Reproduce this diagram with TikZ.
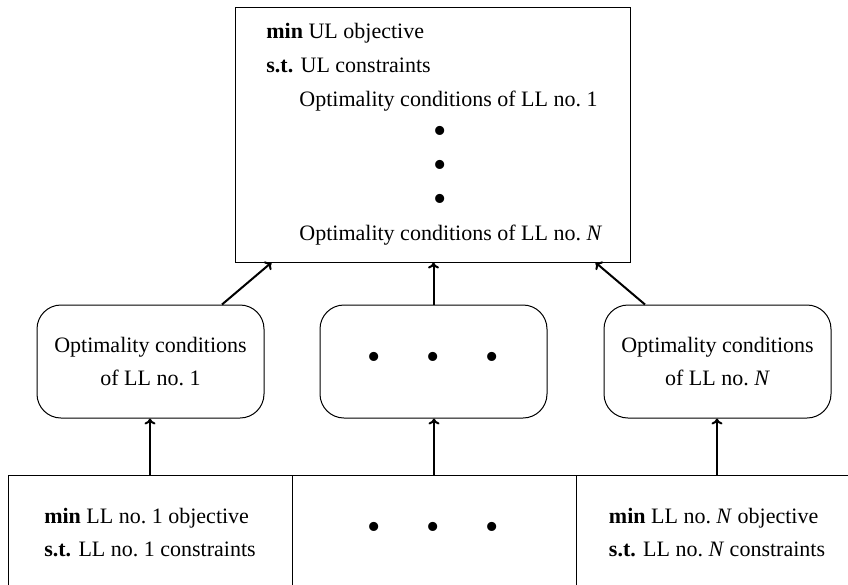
\documentclass[tikz,border=0pt]{standalone}
\usepackage{fontspec}
\setmainfont{Liberation Serif}
\usetikzlibrary{arrows.meta,calc}
\begin{document}
\begin{tikzpicture}[x=0.5pt,y=-0.5pt,
  font=\fontsize{11}{16.5}\selectfont,
  frame/.style={draw,line width=0.5pt,inner sep=0pt},
  ocbox/.style={frame,rounded corners=12pt,minimum width=113.5pt,
    minimum height=56.5pt,align=center},
  llbox/.style={frame,minimum height=62.5pt},
  txt/.style={inner sep=0pt,anchor=base west},
  blt/.style={inner sep=0pt,font=\fontsize{19}{19}\selectfont},
  arr/.style={line width=1pt,-{To[length=3pt,width=5.5pt]}}]
\useasboundingbox (0,0) rectangle (848,585);
\clip (0,0) rectangle (848,585);

% upper-level problem
\node[frame,minimum width=197.5pt,minimum height=127.5pt] (top) at (432.5,134.5) {};
\node[txt] (t1) at (266,38) {\textbf{min} UL objective};
\node[txt] (t2) at (266,72.5) {\textbf{s.t.} UL constraints};
\node[txt] (t3) at (299,106) {Optimality conditions of LL no.~1};
\node[blt] (d1) at (440.5,135) {\textbullet};
\node[blt] (d2) at (440.5,168.5) {\textbullet};
\node[blt] (d3) at (440.5,202.5) {\textbullet};
\node[txt] (t4) at (299,240) {Optimality conditions of LL no.~\textit{N}};

% optimality conditions of the lower levels
\node[ocbox] (oc1) at (150.5,361.5) {Optimality conditions\\of LL no.~1};
\node[ocbox] (ocm) at (433.5,361.5) {};
\node[blt] (m1) at (374.5,361) {\textbullet};
\node[blt] (m2) at (433.5,361) {\textbullet};
\node[blt] (m3) at (492.5,361) {\textbullet};
\node[ocbox] (ocN) at (717.5,361.5) {Optimality conditions\\of LL no.~\textit{N}};

% lower-level problems
\node[llbox,minimum width=142pt] (ll1) at (150,537.5) {};
\node[llbox,minimum width=142pt] (ll2) at (434,537.5) {};
\node[llbox,minimum width=141pt] (ll3) at (717,537.5) {};
\node[inner sep=0pt,align=left] (l1) at (150,533)
  {\textbf{min} LL no.~1 objective\\\textbf{s.t.} LL no.~1 constraints};
\node[blt] (b1) at (374.5,531) {\textbullet};
\node[blt] (b2) at (433.5,531) {\textbullet};
\node[blt] (b3) at (492.5,531) {\textbullet};
\node[inner sep=0pt,align=left] (l3) at (717,533)
  {\textbf{min} LL no.~\textit{N} objective\\\textbf{s.t.} LL no.~\textit{N} constraints};

% connectors
\draw[arr] ($(oc1.north)+(71.5,0)$) -- ($(top.south west)+(37,0)$);
\draw[arr] (ocm.north) -- (ocm.north |- top.south);
\draw[arr] ($(ocN.north)+(-72.5,0)$) -- ($(top.south east)+(-35,0)$);
\draw[arr] (ll1.north) -- (ll1.north |- oc1.south);
\draw[arr] (ll2.north) -- (ll2.north |- ocm.south);
\draw[arr] (ll3.north) -- (ll3.north |- ocN.south);
\end{tikzpicture}
\end{document}
